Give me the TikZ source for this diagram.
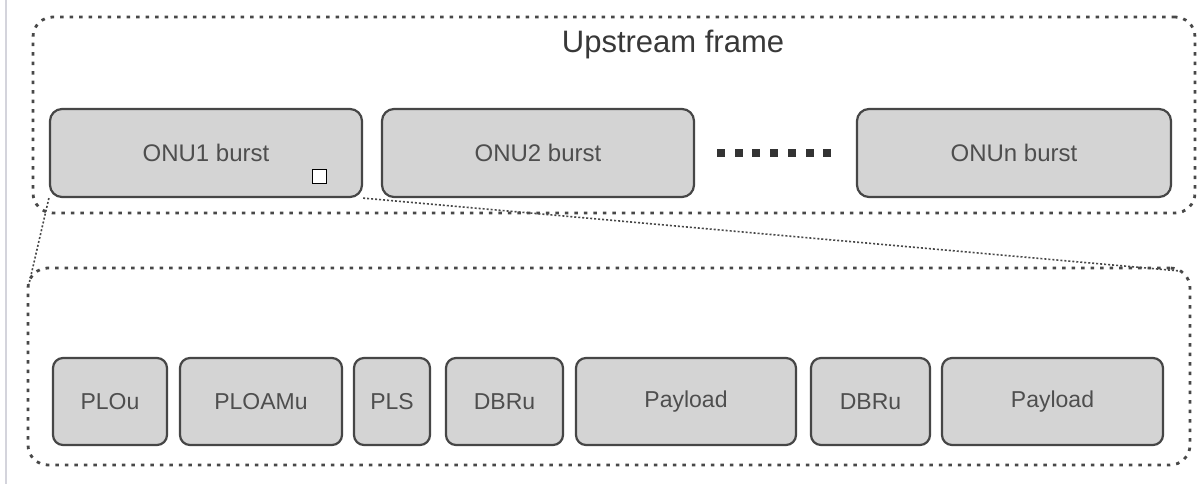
\documentclass[tikz,border=0pt]{standalone}
\usepackage{fontspec}
\setmainfont{Liberation Sans}
\definecolor{dashgray}{HTML}{484848}
\definecolor{boxborder}{HTML}{464646}
\definecolor{boxfill}{HTML}{D4D4D4}
\definecolor{labelgray}{HTML}{4E4E4E}
\definecolor{titlegray}{HTML}{383838}
\definecolor{dotcol}{HTML}{333333}
\definecolor{edgegray}{HTML}{D4D4DC}
\begin{document}
\begin{tikzpicture}[x=1pt,y=-1pt,
  frame/.style={draw=dashgray, line width=2.8pt, dash pattern=on 3.5pt off 6pt, rounded corners=20pt, inner sep=0pt},
  burst/.style={draw=boxborder, fill=boxfill, line width=2.2pt, rounded corners=12pt, inner sep=0pt, minimum height=88pt, text=labelgray, font=\fontsize{24}{28}\selectfont},
  field/.style={draw=boxborder, fill=boxfill, line width=2.2pt, rounded corners=10pt, inner sep=0pt, minimum height=87pt, text=labelgray, font=\fontsize{23}{27}\selectfont},
  link/.style={draw=dashgray, line width=1.6pt, dash pattern=on 2pt off 2pt},
  dotmark/.style={fill=dotcol, minimum size=8pt, inner sep=0pt}
]
\useasboundingbox[fill=white] (0,0) rectangle (1203,484);
\draw[edgegray, line width=1.5pt] (6,0) -- (6,484);

% frames
\node[frame, minimum width=1162pt, minimum height=196pt] (upper) at (614,115) {};
\node[frame, minimum width=1162pt, minimum height=197pt] (lower) at (609,366.5) {};
\node[text=titlegray, font=\fontsize{31}{36}\selectfont, anchor=base] (title) at (673,53) {Upstream frame};

% bursts
\node[burst, minimum width=312pt] (onu1) at (206,153) {ONU1 burst};
\node[burst, minimum width=312pt] (onu2) at (538,153) {ONU2 burst};
\node[burst, minimum width=314pt] (onun) at (1014,153) {ONUn burst};
\node[draw=black, fill=white, line width=1.5pt, minimum size=14pt, inner sep=0pt] (sq) at (319.5,176.5) {};

% dots
\foreach \i in {0,...,6} {
  \node[dotmark] (d\i) at (721+17.7*\i,153) {};
}

% fields
\node[field, minimum width=114pt] (plou) at (110,401.5) {PLOu};
\node[field, minimum width=162pt] (ploamu) at (261,401.5) {PLOAMu};
\node[field, minimum width=76pt] (pls) at (392,401.5) {PLS};
\node[field, minimum width=117pt] (dbru1) at (504.5,401.5) {DBRu};
\node[field, minimum width=220pt] (pay1) at (686,401.5) {Payload};
\node[field, minimum width=119pt] (dbru2) at (870.5,401.5) {DBRu};
\node[field, minimum width=221pt] (pay2) at (1052.5,401.5) {Payload};

% connectors
\coordinate (lowL) at (29,284);
\coordinate (lowR) at (1180,271);
\draw[link] (onu1.south west) -- (lowL);
\draw[link] (onu1.south east) -- (lowR);
\end{tikzpicture}
\end{document}
